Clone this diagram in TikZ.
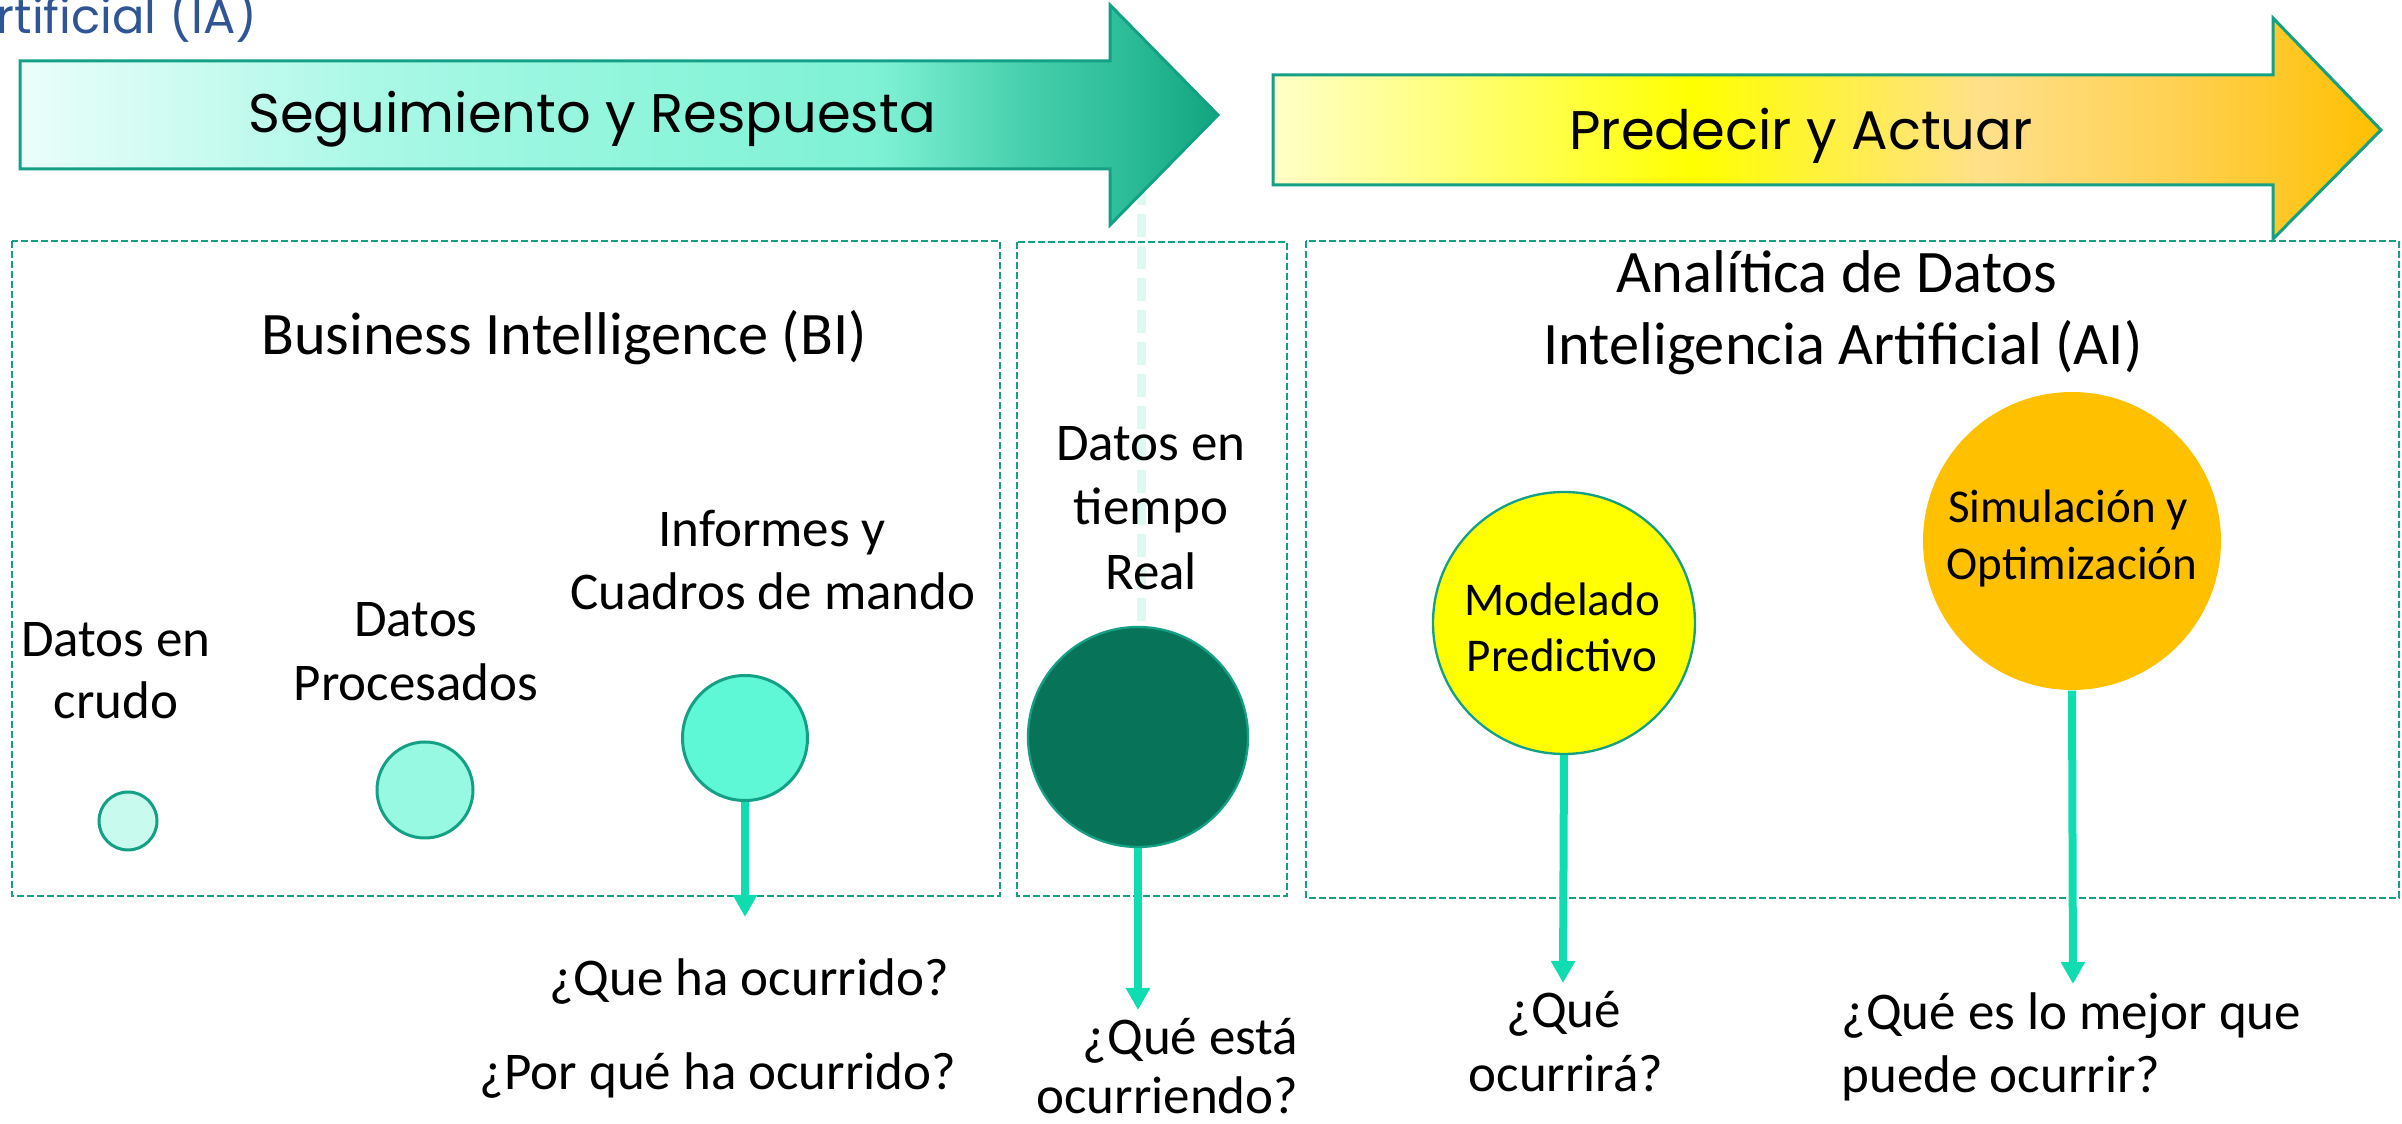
\documentclass[tikz,border=0pt]{standalone}
\usepackage{fontspec}
\setmainfont{Carlito}
\newfontfamily\geo{Poppins}
\usetikzlibrary{arrows.meta}
\definecolor{boxgreen}{HTML}{14A085}
\definecolor{aqua}{HTML}{10DDAF}
\definecolor{iablue}{HTML}{2F5597}
\definecolor{faint}{HTML}{DFF9F2}
\definecolor{cRawF}{HTML}{C8FAEE}
\definecolor{cProcF}{HTML}{97F9E2}
\definecolor{cInfF}{HTML}{5FF8D6}
\definecolor{cRTF}{HTML}{077359}
\definecolor{cSimF}{HTML}{FFC000}
\definecolor{cModF}{HTML}{FFFF00}
\definecolor{tA}{HTML}{EAFEFA}
\definecolor{tB}{HTML}{A9F8E6}
\definecolor{tC}{HTML}{8DF5DB}
\definecolor{tD}{HTML}{7EF1D5}
\definecolor{tE}{HTML}{46CFAC}
\definecolor{tF}{HTML}{2DBE99}
\definecolor{tG}{HTML}{10A47F}
\definecolor{yA}{HTML}{FFFFC8}
\definecolor{yB}{HTML}{FFFF85}
\definecolor{yC}{HTML}{FFFF00}
\definecolor{yD}{HTML}{FFE08A}
\definecolor{yE}{HTML}{FFD050}
\definecolor{yF}{HTML}{FFC000}
\pgfdeclarehorizontalshading{tealgrad}{100bp}{color(0bp)=(tA); color(25bp)=(tA); color(40bp)=(tB); color(52bp)=(tC); color(61bp)=(tD); color(67bp)=(tE); color(71bp)=(tF); color(75bp)=(tG); color(100bp)=(tG)}
\pgfdeclarehorizontalshading{yellowgrad}{100bp}{color(0bp)=(yA); color(25bp)=(yA); color(32bp)=(yB); color(44bp)=(yC); color(57bp)=(yD); color(66bp)=(yE); color(75bp)=(yF); color(100bp)=(yF)}
\tikzset{
  lbl/.style={inner sep=0pt, anchor=base, font=\fontsize{15.9}{19}\selectfont},
  ttl/.style={lbl, font=\fontsize{18.1}{22}\selectfont},
  clbl/.style={lbl, font=\fontsize{14.1}{17}\selectfont},
  geolbl/.style={inner sep=0pt, anchor=base, font=\geo\fontsize{16.3}{20}\selectfont},
  dbox/.style={draw=boxgreen, line width=0.8pt, dash pattern=on 2.1pt off 0.9pt},
  bub/.style={circle, draw=boxgreen, line width=0.9pt, inner sep=0pt},
  bigarrow/.style={draw=boxgreen, line width=0.9pt},
  qarrow/.style={draw=aqua, line width=2.4pt, -{Triangle[width=6.9pt,length=6.6pt]}},
  faintline/.style={draw=faint, line width=2.7pt, dash pattern=on 6.9pt off 2.7pt}
}
\begin{document}
\begin{tikzpicture}[x=0.3pt,y=-0.3pt]
\useasboundingbox (0,0) rectangle (2402,1124);
% faint dashed guide from arrow tip to real-time circle
\coordinate (guideTop) at (1141,150);
\coordinate (guideBot) at (1141,640);
\draw[faintline] (guideTop) -- (guideBot);
% dashed boxes
\draw[dbox] (12,241) rectangle (1000,896);
\draw[dbox] (1017,242) rectangle (1287,896);
\draw[dbox] (1306,241) rectangle (2399,898);
% top arrows
\shadedraw[shading=tealgrad, bigarrow] (20,61) -- (1110,61) -- (1110,5) -- (1218,115) -- (1110,225) -- (1110,169) -- (20,169) -- cycle;
\shadedraw[shading=yellowgrad, bigarrow] (1273,75) -- (2273,75) -- (2273,18) -- (2381,130) -- (2273,239) -- (2273,185) -- (1273,185) -- cycle;
\node[geolbl] (segtxt) at (592,133) {Seguimiento y Respuesta};
\node[geolbl] (predtxt) at (1801,150) {Predecir y Actuar};
\node[inner sep=0pt, anchor=base west, text=iablue, font=\geo\fontsize{14.4}{17}\selectfont] (iatxt) at (-4,34) {rtificial (IA)};
% circles
\node[bub, fill=cRawF, minimum size=17.4pt] (cRaw) at (128,821) {};
\node[bub, fill=cProcF, minimum size=28.8pt] (cProc) at (425,790) {};
\node[bub, fill=cInfF, minimum size=37.5pt] (cInf) at (745,738) {};
\node[bub, fill=cRTF, minimum size=66pt, line width=0.7pt] (cRT) at (1138,737) {};
\node[bub, fill=cModF, minimum size=78.6pt, line width=0.7pt] (cMod) at (1564,623) {};
\node[circle, fill=cSimF, inner sep=0pt, minimum size=89.4pt] (cSim) at (2072,541) {};
% titles
\node[ttl] (titBI) at (564,355) {Business Intelligence (BI)};
\node[ttl] (anaA) at (1837,293) {Analítica de Datos};
\node[ttl] (anaB) at (1843,365) {Inteligencia Artificial (AI)};
% labels
\node[lbl] (crudoA) at (116,657) {Datos en};
\node[lbl] (crudoB) at (116,719) {crudo};
\node[lbl] (procA) at (416,637) {Datos};
\node[lbl] (procB) at (416,701) {Procesados};
\node[lbl] (infA) at (772,547) {Informes y};
\node[lbl] (infB) at (773,610) {Cuadros de mando};
\node[lbl] (rtA) at (1151,461) {Datos en};
\node[lbl] (rtB) at (1151,525) {tiempo};
\node[lbl] (rtC) at (1151,590) {Real};
\node[clbl] (modA) at (1562,616) {Modelado};
\node[clbl] (modB) at (1562,672) {Predictivo};
\node[clbl] (simA) at (2068,523) {Simulación y};
\node[clbl] (simB) at (2072,580) {Optimización};
% questions
\node[lbl] (q1) at (749,996) {¿Que ha ocurrido?};
\node[lbl] (q2) at (718,1090) {¿Por qué ha ocurrido?};
\node[lbl, anchor=base east] (q3a) at (1299,1055) {¿Qué está};
\node[lbl, anchor=base east] (q3b) at (1299,1114) {ocurriendo?};
\node[lbl] (q4a) at (1564,1028) {¿Qué};
\node[lbl] (q4b) at (1566,1092) {ocurrirá?};
\node[lbl, anchor=base west] (q5a) at (1841,1030) {¿Qué es lo mejor que};
\node[lbl, anchor=base west] (q5b) at (1841,1093) {puede ocurrir?};
% question arrows
\coordinate (tInf) at (745,917);
\coordinate (tRT) at (1138,1010);
\coordinate (tMod) at (1563,983);
\coordinate (tSim) at (2073,984);
\draw[qarrow] (cInf.south) -- (tInf);
\draw[qarrow] (cRT.south) -- (tRT);
\draw[qarrow] (cMod.south) -- (tMod);
\draw[qarrow] (cSim.south) -- (tSim);
\end{tikzpicture}
\end{document}
